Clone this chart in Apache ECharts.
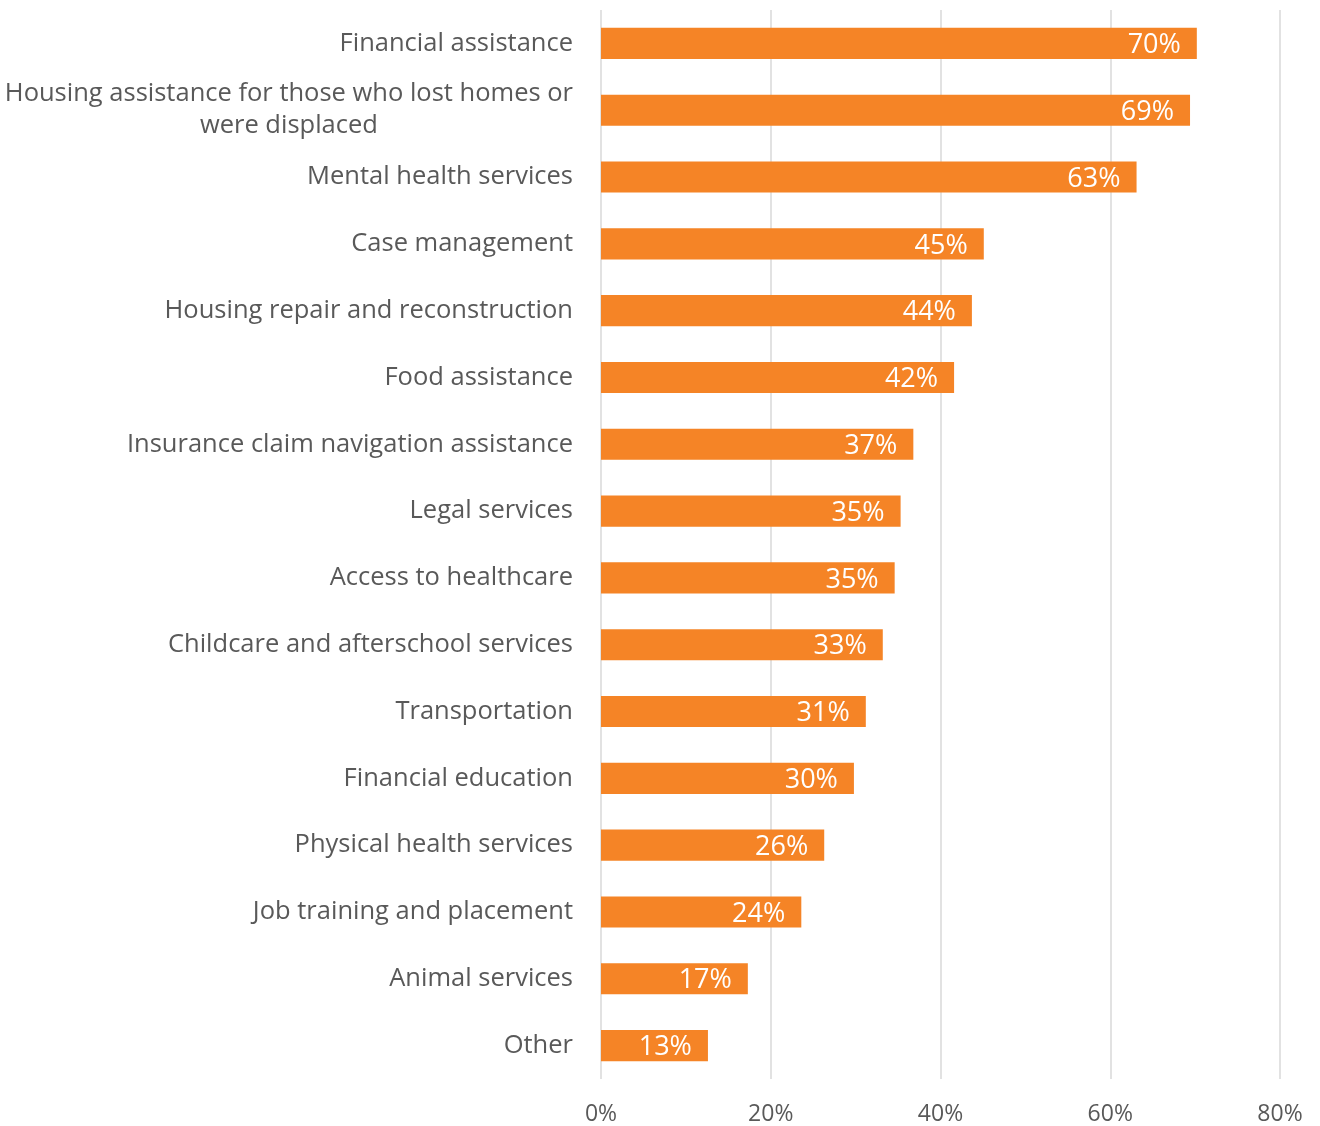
<!DOCTYPE html>
<html><head><meta charset="utf-8">
<script src="https://cdn.jsdelivr.net/npm/echarts@6/dist/echarts.min.js"></script>
<style>html,body{margin:0;padding:0;background:#fff}#c{width:1320px;height:1126px}</style>
</head><body><div id="c"></div>
<script>
const categories = [
  "Financial assistance",
  "Housing assistance for those who lost homes or\nwere displaced",
  "Mental health services",
  "Case management",
  "Housing repair and reconstruction",
  "Food assistance",
  "Insurance claim navigation assistance",
  "Legal services",
  "Access to healthcare",
  "Childcare and afterschool services",
  "Transportation",
  "Financial education",
  "Physical health services",
  "Job training and placement",
  "Animal services",
  "Other"
];
const values = [70.2, 69.4, 63.1, 45.1, 43.7, 41.6, 36.8, 35.3, 34.6, 33.2, 31.2, 29.8, 26.3, 23.6, 17.3, 12.6];
const tickLabels = ["0%", "20%", "40%", "60%", "80%"];

const FONT = '"Open Sans", sans-serif';
const chart = echarts.init(document.getElementById('c'), null, {renderer: 'canvas'});
chart.setOption({
  animation: false,
  backgroundColor: '#fff',
  grid: {left: 601, right: 40, top: 10, bottom: 45, containLabel: false},
  xAxis: {
    type: 'value', min: 0, max: 80, interval: 20,
    axisLine: {show: false}, axisTick: {show: false},
    splitLine: {lineStyle: {color: '#D9D9D9', width: 1.5}},
    axisLabel: {
      color: '#595959', fontFamily: FONT, fontSize: 23, margin: 24,
      formatter: v => tickLabels[Math.round(v / 20)]
    }
  },
  yAxis: {
    type: 'category', inverse: true, data: categories,
    axisLine: {show: false}, axisTick: {show: false},
    axisLabel: {
      margin: 28, align: 'right',
      formatter: v => v.split('\n').map(s => '{c|' + s + '}').join('\n'),
      rich: {c: {color: '#595959', fontFamily: FONT, fontSize: 25.5, lineHeight: 32, align: 'center'}}
    }
  },
  series: [{
    type: 'bar', data: values, barCategoryGap: '53.5%',
    itemStyle: {color: '#F58426'},
    label: {
      show: true, position: 'insideRight', distance: 16, offset: [0, 2],
      color: '#fff', fontFamily: FONT, fontSize: 27,
      formatter: p => Math.round(p.value) + '%'
    }
  }]
});
</script></body></html>
